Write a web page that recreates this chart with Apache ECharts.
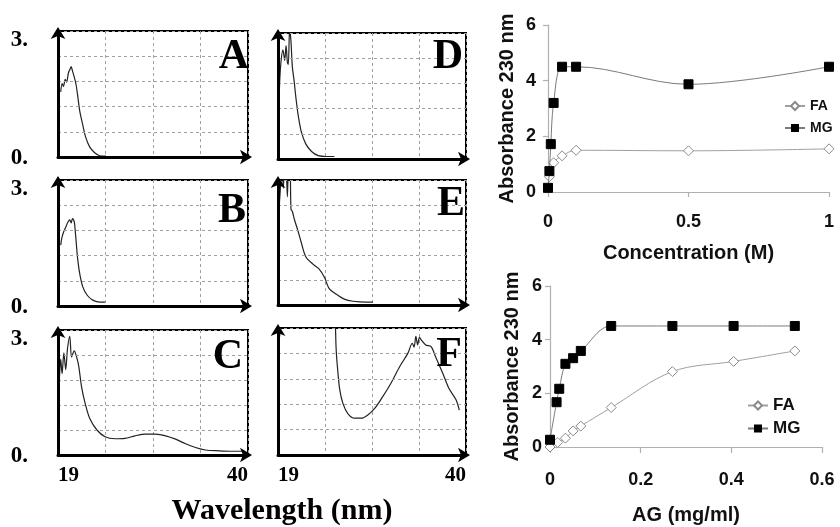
<!DOCTYPE html>
<html>
<head>
<meta charset="utf-8">
<script src="https://cdn.jsdelivr.net/npm/echarts@6/dist/echarts.min.js"></script>
<style>
  html, body { margin: 0; padding: 0; background: #fff; }
  #chart { width: 840px; height: 527px; }
</style>
</head>
<body>
<div id="chart"></div>
<script>
// spectra, [wavelength, absorbance]
const specA = [[19.3,1.55],[19.45,1.75],[19.6,1.68],[19.8,1.85],[19.95,1.78],[20.15,2.0],[20.35,2.1],[20.45,2.15],[20.6,2.05],[20.8,1.9],[21.0,1.72],[21.2,1.42],[21.4,1.1],[21.7,0.8],[22.05,0.48],[22.5,0.24],[23.05,0.1],[23.6,0.03],[24.3,0.02]];
const specB = [[19.3,1.45],[19.4,1.6],[19.6,1.75],[19.9,1.9],[20.1,2.0],[20.3,2.05],[20.45,1.98],[20.6,2.08],[20.8,2.0],[20.9,1.8],[21.0,1.55],[21.15,1.17],[21.4,0.77],[21.75,0.45],[22.25,0.25],[22.85,0.14],[23.4,0.1],[24.2,0.09]];
const specC = [[19.15,1.8],[19.3,2.3],[19.45,1.95],[19.65,2.45],[19.85,2.05],[20.05,2.55],[20.3,2.85],[20.5,2.35],[20.8,2.5],[21.05,2.36],[21.3,2.12],[21.6,1.64],[22.0,1.24],[22.5,0.88],[23.3,0.6],[24.2,0.44],[25.3,0.39],[26.4,0.4],[27.5,0.46],[28.7,0.5],[29.8,0.5],[30.9,0.46],[32.0,0.38],[33.1,0.27],[34.2,0.18],[35.3,0.12],[36.8,0.1],[38.3,0.09],[39.6,0.09]];
const specD = [[19.1,1.2],[19.2,1.9],[19.35,2.35],[19.55,2.6],[19.75,2.35],[19.9,2.7],[20.05,2.3],[20.15,2.25],[20.3,3.1],[20.45,2.8],[20.6,2.2],[20.8,1.86],[21.0,1.46],[21.25,1.05],[21.6,0.65],[22.1,0.36],[22.75,0.18],[23.5,0.08],[24.4,0.06],[25.3,0.06]];
const specE = [[19.05,1.8],[19.15,2.4],[19.3,2.9],[19.45,3.4],[19.6,2.8],[19.75,3.5],[19.9,3.4],[20.05,2.6],[20.2,3.5],[20.35,3.4],[20.45,2.3],[20.6,2.25],[20.85,2.04],[21.2,1.8],[21.6,1.5],[22.1,1.16],[22.9,0.98],[23.6,0.86],[24.2,0.66],[24.7,0.4],[25.5,0.26],[26.4,0.14],[27.4,0.09],[28.9,0.07],[29.6,0.07]];
const specF = [[19.1,2.7],[19.2,2.85],[19.35,3.3],[19.6,4.5],[20.5,5.5],[23,5.5],[25.2,4.5],[25.4,3.2],[25.5,2.48],[25.7,1.93],[25.9,1.54],[26.25,1.22],[26.8,0.98],[27.55,0.87],[28.3,0.87],[29.0,0.94],[29.8,1.1],[30.7,1.38],[31.6,1.69],[32.6,2.09],[33.5,2.4],[34.0,2.64],[34.2,2.55],[34.4,2.8],[34.6,2.6],[34.8,2.78],[35.0,2.72],[35.5,2.6],[36.1,2.56],[36.6,2.32],[37.4,1.93],[38.1,1.57],[38.9,1.3],[39.25,1.06]];
const panelNames = ["A", "B", "C", "D", "E", "F"];

// absorbance vs concentration
const concMGx = [0, 0.005, 0.01, 0.02, 0.05, 0.1, 0.5, 1];
const concMG = [0.15, 0.75, 1.72, 3.2, 4.5, 4.5, 3.87, 4.5];
const concFAx = [0.005, 0.02, 0.05, 0.1, 0.5, 1];
const concFA = [0.55, 1.05, 1.3, 1.5, 1.48, 1.55];

// absorbance vs AG
const agMGx = [0, 0.0145, 0.0204, 0.034, 0.051, 0.068, 0.135, 0.27, 0.405, 0.54];
const agMG = [0.27, 1.67, 2.17, 3.1, 3.31, 3.58, 4.51, 4.51, 4.51, 4.51];
const agFAx = [0, 0.017, 0.034, 0.051, 0.068, 0.135, 0.27, 0.405, 0.54];
const agFA = [0, 0.17, 0.33, 0.6, 0.78, 1.47, 2.81, 3.19, 3.58];

const zip = (xs, ys) => xs.map((x, i) => [x, ys[i]]);
const spectra = [specA, specB, specC, specD, specE, specF];

const chart = echarts.init(document.getElementById("chart"));

// panel boxes (A,B,C left column; D,E,F right column)
const boxes = [
  { left: 58, top: 31, width: 190, height: 126 },
  { left: 58, top: 180, width: 190, height: 126 },
  { left: 58, top: 330, width: 190, height: 125 },
  { left: 278, top: 33, width: 188, height: 126 },
  { left: 278, top: 180, width: 188, height: 125 },
  { left: 278, top: 328, width: 188, height: 127 },
];
const letterPos = [[249, 57], [246, 211], [243, 357], [463, 57], [465, 204], [462, 355]];

const serif = "Liberation Serif";
const sans = "Liberation Sans";
const dash = { type: [3, 3], color: "#a0a0a0", width: 1 };
const blackAxis = (size) => ({
  show: true,
  lineStyle: { color: "#000", width: 3 },
  symbol: ["none", "arrow"],
  symbolSize: size,
  symbolOffset: [0, 4],
});

const grids = [];
const xAxes = [];
const yAxes = [];
const series = [];

boxes.forEach((b, i) => {
  grids.push({
    left: b.left, top: b.top, width: b.width, height: b.height,
    show: true, borderColor: "#000", borderWidth: 2, backgroundColor: "#fff",
  });
  const bottomRow = i === 2 || i === 5;
  const leftCol = i < 3;
  // wavelength axis
  xAxes.push({
    gridIndex: i, type: "value", min: 19, max: 40, position: "bottom",
    axisLine: blackAxis([11, 12]),
    axisTick: { show: false },
    splitLine: { show: false },
    axisLabel: {
      show: bottomRow,
      margin: 10,
      color: "#000",
      fontFamily: serif,
      fontWeight: "bold",
      fontSize: 21,
      alignMinLabel: "left",
      alignMaxLabel: "right",
      formatter: (v) => (v === 19 || v === 40 ? String(v) : ""),
    },
    z: 5,
  });
  // vertical dashed grid (4 divisions)
  xAxes.push({
    gridIndex: i, type: "value", min: 0, max: 4, interval: 1, position: "top",
    axisLine: { show: false }, axisTick: { show: false }, axisLabel: { show: false },
    splitLine: { show: true, lineStyle: dash },
  });
  yAxes.push({
    gridIndex: i, type: "value", min: 0, max: 3, interval: 0.6,
    axisLine: blackAxis([11, 12]),
    axisTick: { show: false },
    splitLine: { show: true, lineStyle: dash },
    axisLabel: {
      show: leftCol,
      margin: 30,
      color: "#000",
      fontFamily: serif,
      fontWeight: "bold",
      fontSize: 23,
      formatter: (v) => (Math.abs(v) < 1e-6 ? "{b|0.}" : Math.abs(v - 3) < 1e-6 ? "{t|3.}" : ""),
      rich: {
        t: { padding: [18, 0, 0, 0], fontFamily: serif, fontWeight: "bold", fontSize: 23, color: "#000" },
        b: { padding: [3, 0, 0, 0], fontFamily: serif, fontWeight: "bold", fontSize: 23, color: "#000" },
      },
    },
    z: 5,
  });
  series.push({
    type: "line",
    xAxisIndex: i * 2,
    yAxisIndex: i,
    data: spectra[i],
    symbol: "none",
    smooth: 0.3,
    clip: true,
    lineStyle: { color: "#222", width: 1.2 },
    z: 3,
  });
});

// right-hand line charts
const axisGray = { color: "#b0b0b0", width: 1.2 };
const tickFont = { color: "#111", fontFamily: sans, fontWeight: "bold", fontSize: 18 };
const nameFont = { color: "#111", fontFamily: sans, fontWeight: "bold", fontSize: 20 };

grids.push({ left: 548, top: 25, width: 281, height: 167 });
grids.push({ left: 550, top: 286, width: 272, height: 161 });

xAxes.push({
  gridIndex: 6, type: "value", min: 0, max: 1, interval: 0.5,
  axisLine: { show: true, lineStyle: axisGray },
  axisTick: { show: true, length: 5, lineStyle: axisGray },
  splitLine: { show: false },
  axisLabel: Object.assign({ margin: 21 }, tickFont),
  name: "Concentration (M)", nameLocation: "middle", nameGap: 51,
  nameTextStyle: nameFont,
});
xAxes.push({
  gridIndex: 7, type: "value", min: 0, max: 0.6, interval: 0.2,
  axisLine: { show: true, lineStyle: axisGray },
  axisTick: { show: true, length: 6, lineStyle: axisGray },
  splitLine: { show: false },
  axisLabel: Object.assign({ margin: 24 }, tickFont),
  name: "AG (mg/ml)", nameLocation: "middle", nameGap: 58,
  nameTextStyle: nameFont,
});
[6, 7].forEach((g) => {
  yAxes.push({
    gridIndex: g, type: "value", min: 0, max: 6, interval: 2,
    axisLine: { show: true, lineStyle: axisGray },
    axisTick: { show: true, length: 5, lineStyle: axisGray },
    splitLine: { show: false },
    axisLabel: Object.assign({ margin: g === 6 ? 12 : 8 }, tickFont),
    name: "Absorbance 230 nm", nameLocation: "middle", nameGap: g === 6 ? 31 : 28, nameRotate: 90,
    nameTextStyle: nameFont,
  });
});

const faStyle = (xi, yi, data) => ({
  name: "FA", type: "line", xAxisIndex: xi, yAxisIndex: yi, data,
  smooth: 0.35, symbol: "diamond", symbolSize: 10, showAllSymbol: true,
  lineStyle: { color: "#a0a0a0", width: 1 },
  itemStyle: { color: "#fff", borderColor: "#8a8a8a", borderWidth: 1 },
  z: 4,
});
const mgStyle = (xi, yi, data) => ({
  name: "MG", type: "line", xAxisIndex: xi, yAxisIndex: yi, data,
  smooth: 0.35, symbol: "rect", symbolSize: 9, showAllSymbol: true,
  lineStyle: { color: "#7a7a7a", width: 1 },
  itemStyle: { color: "#000", borderColor: "#000" },
  z: 5,
});
series.push(faStyle(12, 6, zip(concFAx, concFA)));
series.push(mgStyle(12, 6, zip(concMGx, concMG)));
series.push(faStyle(13, 7, zip(agFAx, agFA)));
series.push(mgStyle(13, 7, zip(agMGx, agMG)));

const legendText = (size) => ({ color: "#111", fontFamily: sans, fontWeight: "bold", fontSize: size });

chart.setOption({
  animation: false,
  backgroundColor: "#fff",
  grid: grids,
  xAxis: xAxes,
  yAxis: yAxes,
  legend: [
    { data: ["FA", "MG"], orient: "vertical", left: 779, top: 94, itemWidth: 20, itemHeight: 10, itemGap: 8, textStyle: legendText(14) },
    { data: ["FA", "MG"], orient: "vertical", left: 742, top: 392, itemWidth: 20, itemHeight: 10, itemGap: 6, textStyle: legendText(17) },
  ],
  graphic: panelNames.map((t, i) => ({
    type: "text",
    x: letterPos[i][0],
    y: letterPos[i][1],
    z: 10,
    style: {
      text: t,
      font: "bold 42px '" + serif + "'",
      fill: "#000",
      textAlign: "right",
      textVerticalAlign: "middle",
      verticalAlign: "middle",
    },
  })).concat([{
    type: "text",
    x: 282,
    y: 511,
    style: {
      text: "Wavelength (nm)",
      font: "bold 30px '" + serif + "'",
      fill: "#000",
      textAlign: "center",
      textVerticalAlign: "middle",
      verticalAlign: "middle",
    },
  }]),
  series: series,
});
</script>
</body>
</html>
